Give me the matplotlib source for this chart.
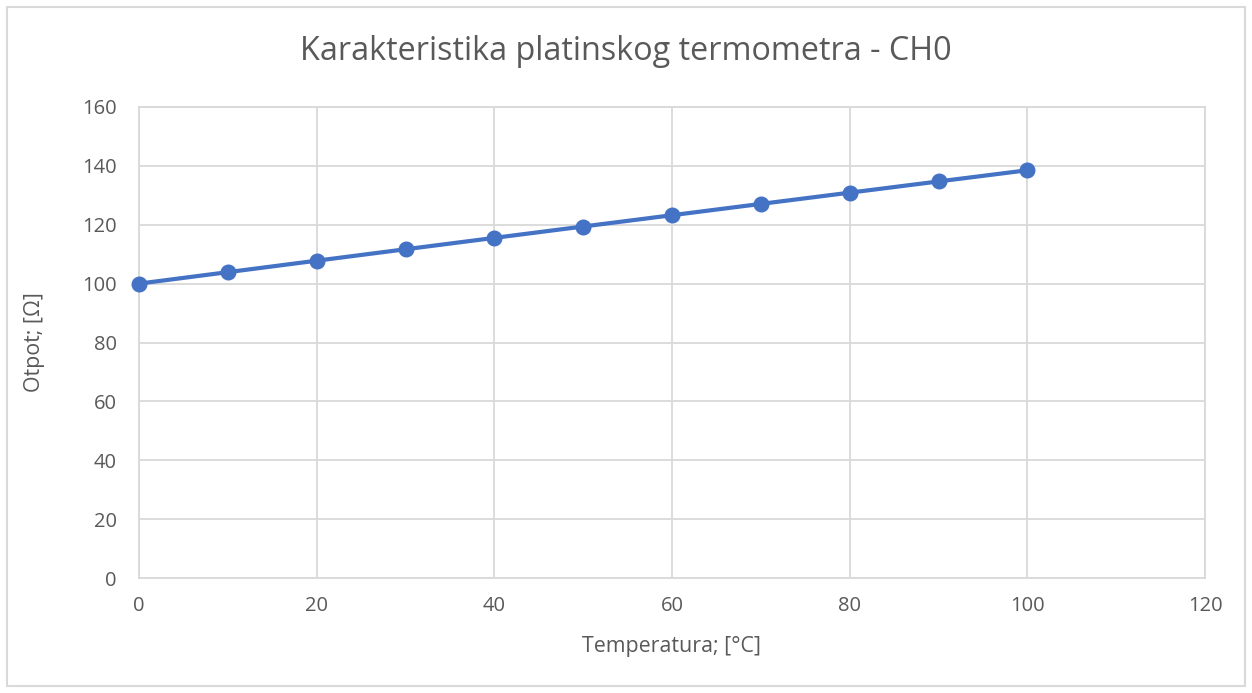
import matplotlib
matplotlib.use("Agg")
import matplotlib.pyplot as plt
from matplotlib.patches import Rectangle

temperature = [0, 10, 20, 30, 40, 50, 60, 70, 80, 90, 100]
resistance = [100.0, 103.9, 107.79, 111.67, 115.54, 119.4, 123.24, 127.08, 130.9, 134.71, 138.51]
x_ticks = [0, 20, 40, 60, 80, 100, 120]
y_ticks = [0, 20, 40, 60, 80, 100, 120, 140, 160]

title = "Karakteristika platinskog termometra - CH0"
xlabel = "Temperatura; [°C]"
ylabel = "Otpot; [Ω]"

plt.rcParams['font.family'] = ['Open Sans', 'DejaVu Sans']
txt = '#595959'
grid = '#d9d9d9'
blue = '#4472c4'

W, H = 1252, 693
fig = plt.figure(figsize=(W / 100, H / 100), dpi=100)
fig.patches.append(Rectangle((7/W, 7/H), 1 - 14/W, 1 - 14/H,
                             transform=fig.transFigure, fill=False,
                             edgecolor=grid, linewidth=1.5))
ax = fig.add_axes([139/W, 1 - 578/H, (1205 - 139)/W, (578 - 107)/H])

ax.plot(temperature, resistance, color=blue, linewidth=3.0, marker='o',
        markersize=10.5, markerfacecolor=blue, markeredgecolor=blue, zorder=3,
        clip_on=False)

ax.set_xlim(0, 120)
ax.set_ylim(0, 160)
ax.set_xticks(x_ticks)
ax.set_yticks(y_ticks)
ax.grid(True, color=grid, linewidth=1.3)
ax.set_axisbelow(True)
for s in ax.spines.values():
    s.set_color(grid)
    s.set_linewidth(1.3)
ax.tick_params(axis='both', length=0, labelsize=14.5, labelcolor=txt)
ax.tick_params(axis='y', pad=16)
ax.tick_params(axis='x', pad=13)

fig.text(0.5, 1 - 52/H, title, fontsize=23.3, color=txt, ha='center', va='center')
ax.set_xlabel(xlabel, fontsize=15.4, color=txt)
ax.set_ylabel(ylabel, fontsize=15.4, color=txt)
ax.xaxis.set_label_coords(0.5, (578 - 636) / 471)
ax.yaxis.set_label_coords((45 - 139) / 1066, 0.5)

fig.savefig("out.png", dpi=100)
